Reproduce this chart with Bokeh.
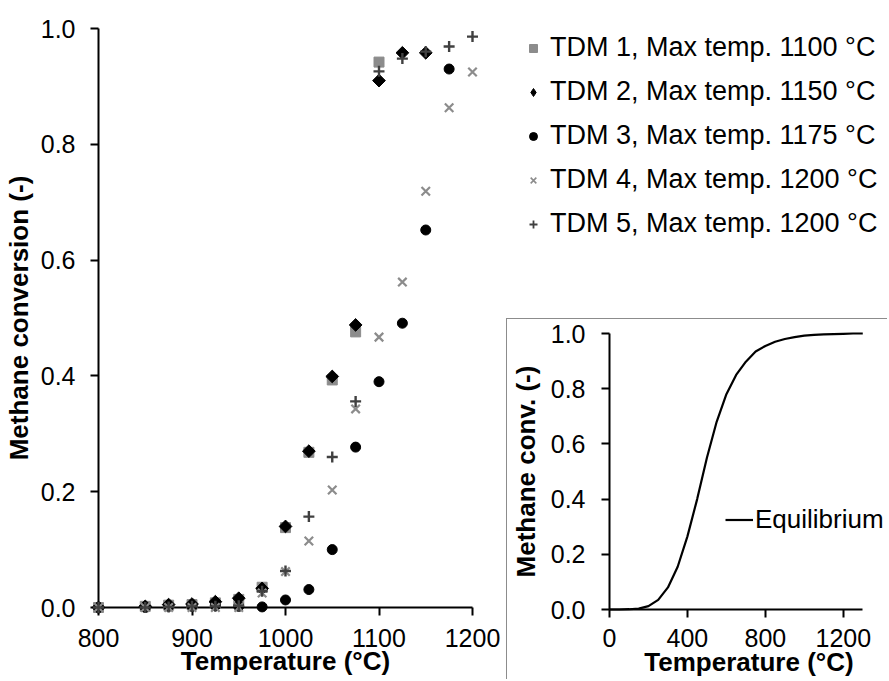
import math
from bokeh.plotting import figure
from bokeh.layouts import row, column
from bokeh.models import FixedTicker, PrintfTickFormatter, Legend, LegendItem, Range1d
from bokeh.embed import file_html
from bokeh.resources import INLINE

# ---------------- data ----------------
temps = [800, 850, 875, 900, 925, 950, 975, 1000, 1025, 1050, 1075, 1100, 1125, 1150, 1175, 1200]

tdm1_temp = temps[:12]
tdm1 = [0.0, 0.002, 0.004, 0.005, 0.008, 0.014, 0.035, 0.138, 0.268, 0.393, 0.476, 0.942]
tdm2_temp = temps[:14]
tdm2 = [0.0, 0.002, 0.005, 0.006, 0.010, 0.016, 0.033, 0.140, 0.270, 0.399, 0.488, 0.910, 0.958, 0.958]
tdm3_temp = temps[:15]
tdm3 = [0.0, 0.0, 0.002, 0.002, 0.003, 0.002, 0.001, 0.013, 0.031, 0.100, 0.277, 0.390, 0.491, 0.652, 0.930]
tdm4_temp = temps
tdm4 = [0.0, 0.0, 0.0, 0.0, 0.0, 0.0, 0.025, 0.062, 0.115, 0.203, 0.343, 0.467, 0.562, 0.719, 0.863, 0.925]
tdm5_temp = temps
tdm5 = [0.0, 0.0, 0.001, 0.002, 0.002, 0.003, 0.028, 0.063, 0.157, 0.260, 0.356, 0.926, 0.948, 0.960, 0.969, 0.986]

series_labels = ["TDM 1, Max temp. 1100 °C", "TDM 2, Max temp. 1150 °C", "TDM 3, Max temp. 1175 °C",
                 "TDM 4, Max temp. 1200 °C", "TDM 5, Max temp. 1200 °C"]

eq_temp = [0, 50, 100, 150, 200, 250, 300, 350, 400, 450, 500, 550, 600, 650, 700, 750, 800,
           850, 900, 950, 1000, 1050, 1100, 1150, 1200, 1250, 1300]
eq_conv = [0.0, 0.0, 0.001, 0.003, 0.012, 0.035, 0.080, 0.155, 0.265, 0.400, 0.550, 0.680, 0.780,
           0.850, 0.898, 0.935, 0.955, 0.970, 0.980, 0.987, 0.992, 0.995, 0.997, 0.998, 0.999, 1.0, 1.0]

main_x_ticks = [800, 900, 1000, 1100, 1200]
conv_ticks = [0.0, 0.2, 0.4, 0.6, 0.8, 1.0]
inset_x_ticks = [0, 400, 800, 1200]

FONT = "Liberation Sans"
GRAY = "#8c8c8c"
DARK = "#404040"

main_styles = [
    dict(marker="square", size=10, fill_color=GRAY, line_color=GRAY),
    dict(marker="square", size=9, angle=math.pi / 4, fill_color="black", line_color="black"),
    dict(marker="circle", size=10, fill_color="black", line_color="black"),
    dict(marker="x", size=12, fill_color=None, line_color=GRAY, line_width=2.2),
    dict(marker="cross", size=11, fill_color=None, line_color=DARK, line_width=2.4),
]
legend_styles = [
    dict(marker="square", fill_color=GRAY, line_color=GRAY),
    dict(marker="diamond", fill_color="black", line_color="black"),
    dict(marker="circle", fill_color="black", line_color="black"),
    dict(marker="x", fill_color=None, line_color=GRAY, line_width=1.6),
    dict(marker="cross", fill_color=None, line_color=DARK, line_width=1.8),
]
series = [(tdm1_temp, tdm1), (tdm2_temp, tdm2), (tdm3_temp, tdm3), (tdm4_temp, tdm4), (tdm5_temp, tdm5)]


def style_axes(p, xticks, yticks, x_standoff, x_label_standoff, y_standoff, y_label_standoff):
    for ax in (p.xaxis[0], p.yaxis[0]):
        ax.axis_line_width = 2
        ax.axis_line_color = "black"
        ax.major_tick_line_width = 2
        ax.major_tick_line_color = "black"
        ax.major_tick_out = 8
        ax.major_tick_in = 0
        ax.minor_tick_line_color = None
        ax.major_label_text_font = FONT
        ax.major_label_text_font_size = "25px"
        ax.major_label_text_color = "black"
        ax.axis_label_text_font = FONT
        ax.axis_label_text_font_size = "26px"
        ax.axis_label_text_font_style = "bold"
        ax.axis_label_text_color = "black"
    p.xaxis[0].ticker = FixedTicker(ticks=xticks)
    p.yaxis[0].ticker = FixedTicker(ticks=yticks)
    p.yaxis[0].formatter = PrintfTickFormatter(format="%.1f")
    p.xaxis[0].major_label_standoff = x_standoff
    p.xaxis[0].axis_label_standoff = x_label_standoff
    p.yaxis[0].major_label_standoff = y_standoff
    p.yaxis[0].axis_label_standoff = y_label_standoff
    p.grid.visible = False
    p.outline_line_color = None


# ---------------- main plot ----------------
p = figure(width=506, height=680, x_range=Range1d(800, 1200), y_range=Range1d(0, 1.0),
           min_border_left=98, min_border_right=34, min_border_top=28, min_border_bottom=73,
           x_axis_label="Temperature (°C)", y_axis_label="Methane conversion (-)",
           output_backend="svg", toolbar_location=None, frame_align=False)
style_axes(p, main_x_ticks, conv_ticks, 13, -4, 15, 4)

for (xs, ys), st in zip(series, main_styles):
    p.scatter(xs, ys, level="overlay", **st)

# ---------------- legend panel ----------------
pl = figure(width=382, height=318, x_range=Range1d(0, 1), y_range=Range1d(0, 1),
            x_axis_type=None, y_axis_type=None, min_border_left=17, min_border_top=32,
            min_border_right=0, min_border_bottom=0, outline_line_color=None,
            output_backend="svg", toolbar_location=None, frame_align=False)
items = []
for (xs, ys), st, lab in zip(series, legend_styles, series_labels):
    r = pl.scatter(xs, ys, **st)
    items.append(LegendItem(label=lab, renderers=[r]))
leg = Legend(items=items, location="top_left", padding=0, margin=0, spacing=13,
             glyph_width=20, glyph_height=30, label_height=30, label_standoff=7,
             label_text_font=FONT, label_text_font_size="27px", label_text_color="black",
             border_line_color=None, background_fill_alpha=0)
pl.add_layout(leg)

# ---------------- inset ----------------
# frame runs to the right edge so that the legend text is not clipped; axis line stops at 1300
pi = figure(width=381, height=361, x_range=Range1d(0, 1300 * 282 / 256), y_range=Range1d(0, 1.0),
            min_border_left=99, min_border_right=0, min_border_top=14, min_border_bottom=71,
            x_axis_label="Temperature (°C)", y_axis_label="Methane conv. (-)",
            output_backend="svg", toolbar_location=None, frame_align=False,
            styles={"border-left": "1px solid #8c8c8c", "border-top": "1px solid #8c8c8c"})
style_axes(pi, inset_x_ticks, conv_ticks, 11, -3, 16, 7)
pi.xaxis[0].bounds = (0, 1300)
eq = pi.line(eq_temp, eq_conv, line_color="black", line_width=2.2, level="overlay")
leg2 = Legend(items=[LegendItem(label="Equilibrium", renderers=[eq])], location=(116, 74),
              padding=0, margin=0, glyph_width=28, glyph_height=29, label_height=29,
              label_standoff=2, label_text_font=FONT, label_text_font_size="26px",
              label_text_color="black", border_line_color=None, background_fill_alpha=0)
pi.add_layout(leg2)

layout = row(p, column(pl, pi))
open("out.html", "w").write(file_html(layout, INLINE))
